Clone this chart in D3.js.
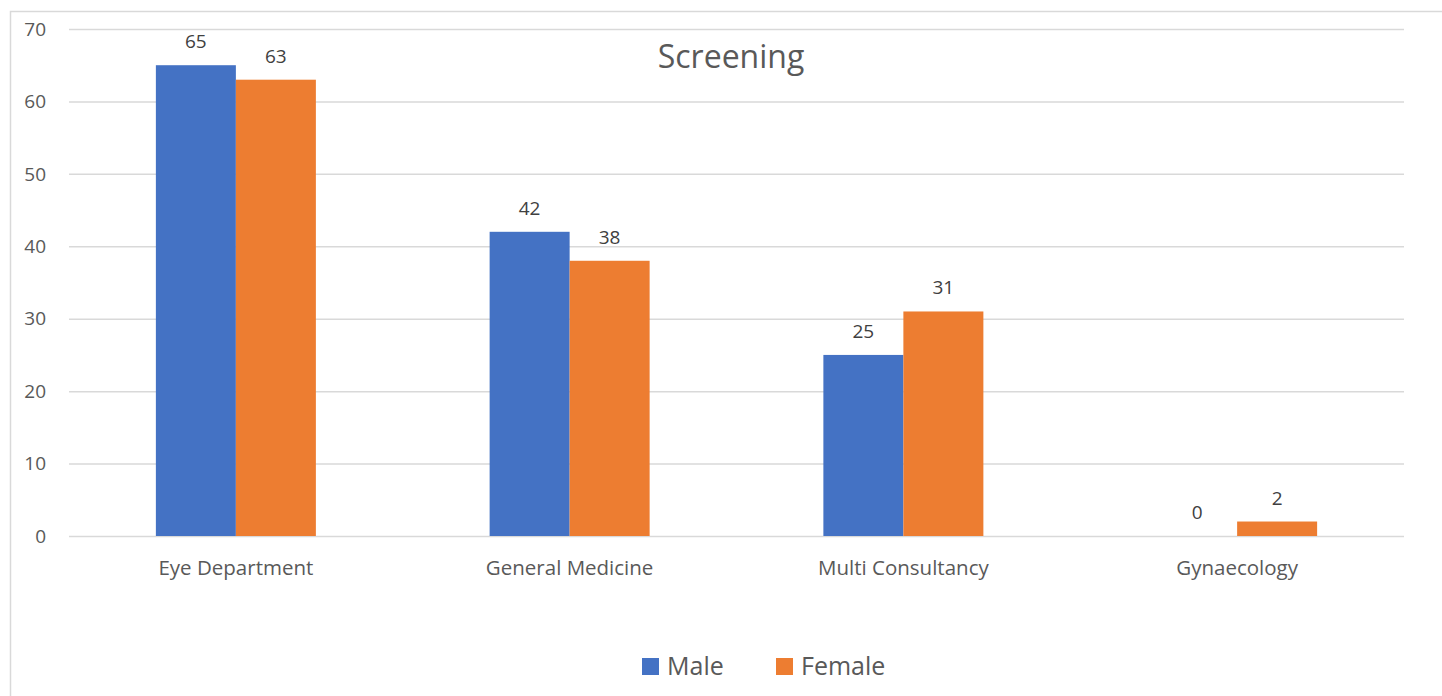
<!DOCTYPE html>
<html><head><meta charset="utf-8">
<script src="https://cdn.jsdelivr.net/npm/d3@7"></script>
<style>body{margin:0;background:#fff;} svg{display:block;}</style>
</head><body>
<svg id="c" width="1442" height="696"></svg>
<script>
const categories = ["Eye Department", "General Medicine", "Multi Consultancy", "Gynaecology"];
const seriesNames = ["Male", "Female"];
const maleValues = [65, 42, 25, 0];
const femaleValues = [63, 38, 31, 2];
const yTicks = [0, 10, 20, 30, 40, 50, 60, 70];
const title = "Screening";
const colors = ["#4472C4", "#ED7D31"];

(function(){
const svg = d3.select("#c");
const font = "'Open Sans', 'Noto Sans', sans-serif";
const textCol = "#595959";

// frame
svg.append("rect").attr("x", 10.5).attr("y", 11.5).attr("width", 1450).attr("height", 700)
  .attr("fill", "none").attr("stroke", "#d9d9d9").attr("stroke-width", 1.5);

const pLeft = 69, pRight = 1404, pTop = 29, pBottom = 536;
const x0 = d3.scaleBand().domain(categories).range([pLeft, pRight]).paddingInner(0).paddingOuter(0);
const x1 = d3.scaleBand().domain(seriesNames).range([0, 160]);
const y = d3.scaleLinear().domain([0, 70]).range([pBottom, pTop]);

// gridlines
svg.append("g").selectAll("line").data(yTicks).join("line")
  .attr("x1", pLeft).attr("x2", pRight)
  .attr("y1", d => y(d) + 0.5).attr("y2", d => y(d) + 0.5)
  .attr("stroke", "#d9d9d9").attr("stroke-width", 1.5);

// y labels
svg.append("g").selectAll("text").data(yTicks).join("text")
  .attr("x", 46).attr("y", d => y(d)).attr("dy", "0.35em")
  .attr("text-anchor", "end").attr("font-family", font).attr("font-size", 19)
  .attr("fill", textCol).text(d => d);

const data = categories.map((c, i) => ({cat: c, vals: [maleValues[i], femaleValues[i]]}));

const groups = svg.append("g").selectAll("g").data(data).join("g")
  .attr("transform", d => `translate(${x0(d.cat) + x0.bandwidth()/2 - 80},0)`);

groups.selectAll("rect").data(d => d.vals.map((v, j) => ({v, s: seriesNames[j], j})))
  .join("rect")
  .attr("x", d => x1(d.s)).attr("width", x1.bandwidth())
  .attr("y", d => y(d.v)).attr("height", d => y(0) - y(d.v))
  .attr("fill", d => colors[d.j]);

groups.selectAll("text").data(d => d.vals.map((v, j) => ({v, s: seriesNames[j], j})))
  .join("text")
  .attr("x", d => x1(d.s) + x1.bandwidth()/2).attr("y", d => y(d.v) - 17)
  .attr("text-anchor", "middle").attr("font-family", font).attr("font-size", 19)
  .attr("fill", "#404040").text(d => d.v);

// category labels
svg.append("g").selectAll("text").data(categories).join("text")
  .attr("x", d => x0(d) + x0.bandwidth()/2).attr("y", 575)
  .attr("text-anchor", "middle").attr("font-family", font).attr("font-size", 20.5)
  .attr("fill", textCol).text(d => d);

// title
svg.append("text").attr("x", 731).attr("y", 68).attr("text-anchor", "middle")
  .attr("font-family", font).attr("font-size", 32).attr("fill", textCol).text(title);

// legend
const legX = [642, 776];
const leg = svg.append("g").selectAll("g").data(seriesNames).join("g")
  .attr("transform", (d, i) => `translate(${legX[i]},658)`);
leg.append("rect").attr("width", 17).attr("height", 17).attr("fill", (d, i) => colors[i]);
leg.append("text").attr("x", 25).attr("y", 17).attr("font-family", font).attr("font-size", 25)
  .attr("fill", textCol).text(d => d);
})();
</script>
</body></html>
